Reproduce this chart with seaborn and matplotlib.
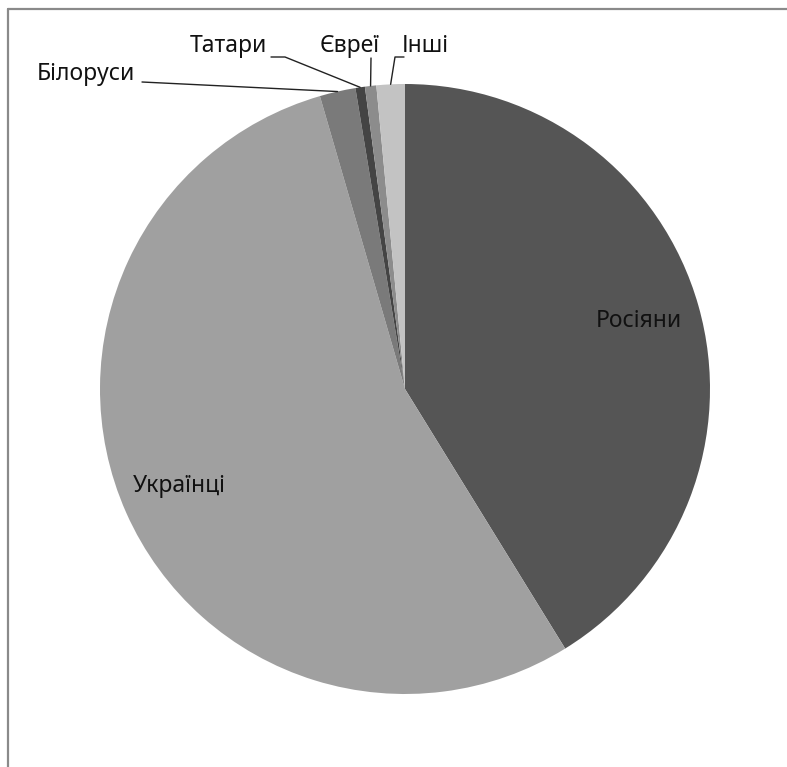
import numpy as np
import matplotlib
matplotlib.use("Agg")
import matplotlib.pyplot as plt
import seaborn as sns

# дані (частки, %)
groups = ['Росіяни', 'Українці', 'Білоруси', 'Татари', 'Євреї', 'Інші']
shares = [41.2, 54.3, 1.9, 0.5, 0.6, 1.5]
colors = ['#555555', '#a0a0a0', '#7a7a7a', '#444444', '#8c8c8c', '#c3c3c3']

sns.set_theme(style='white')
plt.rcParams['font.family'] = ['Noto Sans', 'DejaVu Sans']

W, H = 787, 767
fig = plt.figure(figsize=(W / 100, H / 100), dpi=100)

# рамка (тільки зверху і зліва, як у обрізаному скриншоті)
fig.add_artist(plt.Line2D([7.5 / W, 7.5 / W], [0, 1 - 8.5 / H], color='#8a8a8a', lw=1.6))
fig.add_artist(plt.Line2D([7.5 / W, 1], [1 - 8.5 / H, 1 - 8.5 / H], color='#8a8a8a', lw=1.6))

cx, cy, r = 405, 389, 305
ax = fig.add_axes([(cx - r) / W, (H - cy - r) / H, 2 * r / W, 2 * r / H])
wedges, _ = ax.pie(shares, colors=colors, startangle=90, counterclock=False,
                   radius=1, wedgeprops=dict(linewidth=0))
ax.set_xlim(-1, 1)
ax.set_ylim(-1, 1)
ax.set_aspect('equal')
ax.axis('off')


def px(x, y):
    # пікселі -> координати осей пирога
    return (x - cx) / r, (cy - y) / r


fs = 16.5
# мітки всередині (центр по x, базова лінія по y)
ax.text(*px(639, 327), groups[0], ha='center', va='baseline', fontsize=fs, color='#111111')
ax.text(*px(179, 492), groups[1], ha='center', va='baseline', fontsize=fs, color='#111111')

# мітки з виносками
label_pos = {'Білоруси': (86, 80), 'Татари': (228, 52), 'Євреї': (350, 52), 'Інші': (425, 52)}
elbow = {'Білоруси': [(142, 82)], 'Татари': [(271, 57), (285, 57)],
         'Євреї': [(371, 58)], 'Інші': [(404, 57), (395, 57)]}
for w, name in zip(wedges, groups):
    if name not in label_pos:
        continue
    mid = np.deg2rad((w.theta1 + w.theta2) / 2)
    ex, ey = np.cos(mid), np.sin(mid)
    ax.text(*px(*label_pos[name]), name, ha='center', va='baseline', fontsize=fs,
            color='#111111')
    pts = [px(*p) for p in elbow[name]] + [(ex, ey)]
    xs, ys = zip(*pts)
    ax.plot(xs, ys, color='#222222', lw=1, clip_on=False)

fig.savefig('out.png', dpi=100)
